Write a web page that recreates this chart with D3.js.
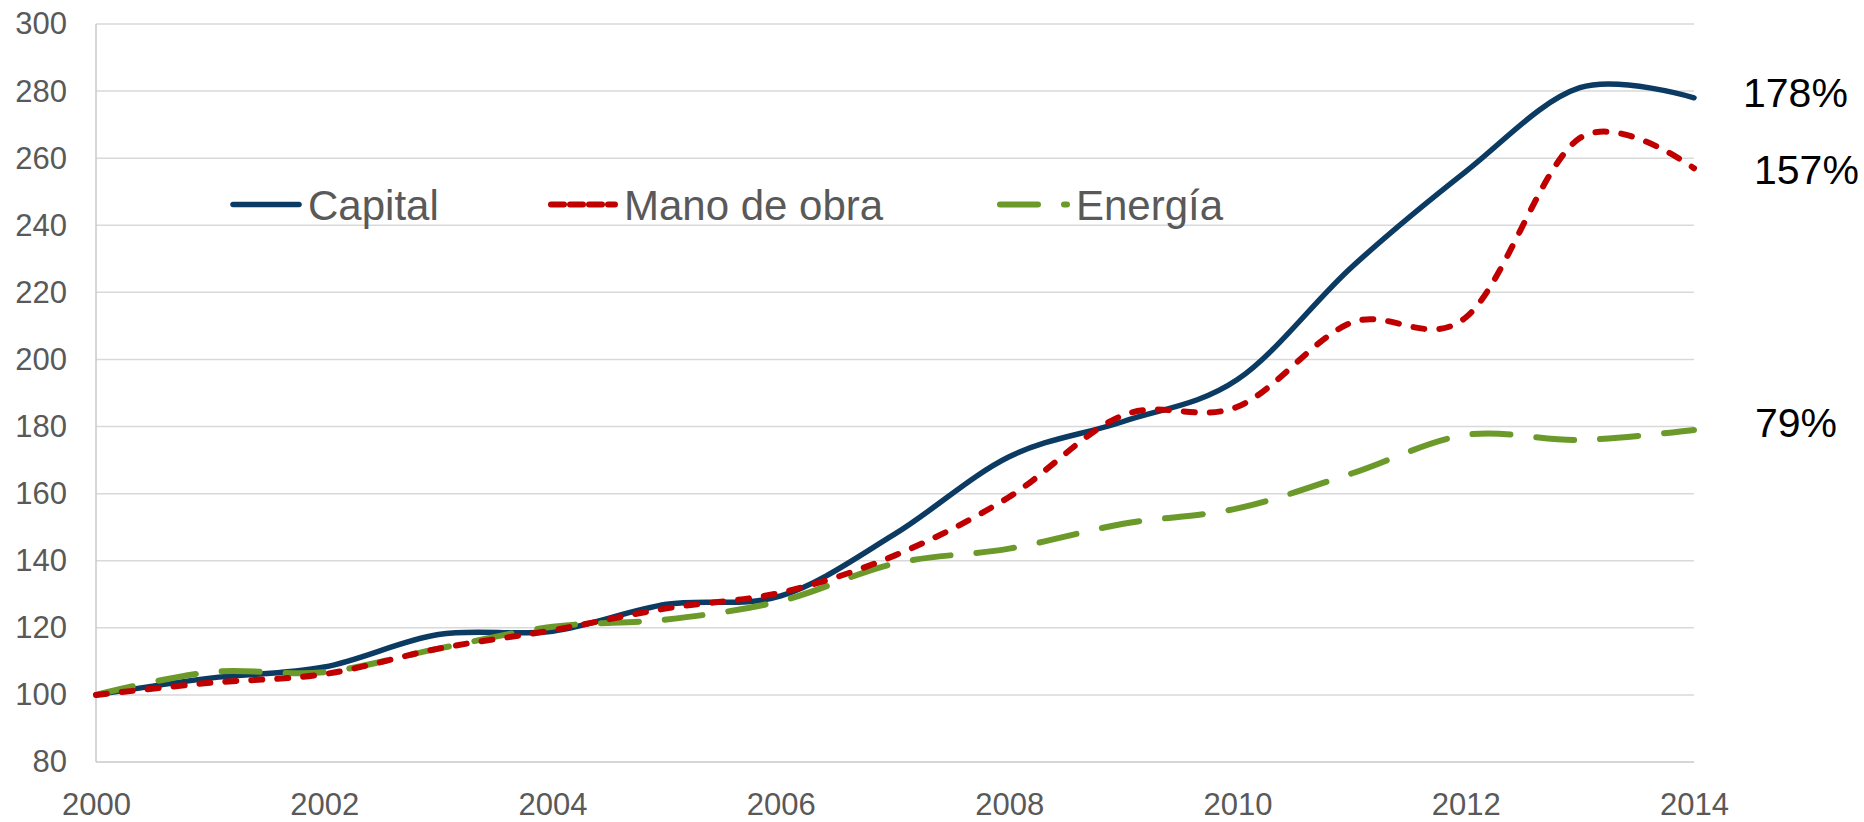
<!DOCTYPE html>
<html>
<head>
<meta charset="utf-8">
<script src="https://cdn.jsdelivr.net/npm/d3@7"></script>
<style>
  html, body { margin: 0; padding: 0; background: #fff; }
  svg { display: block; font-family: "Liberation Sans", Arial, sans-serif; }
</style>
</head>
<body>
<script>
// Índice 2000 = 100
const years = [2000, 2001, 2002, 2003, 2004, 2005, 2006, 2007, 2008, 2009, 2010, 2011, 2012, 2013, 2014];
const capital = [100, 105, 108.3, 118, 119, 127, 129.5, 148, 171, 181.5, 194, 227.5, 256, 281, 278];
const manoDeObra = [100, 103.6, 106.2, 113.8, 119.3, 125.8, 130.5, 141.6, 159, 183.4, 185.9, 211, 212.5, 266, 257];
const energia = [100, 106.8, 106.8, 113.8, 120.3, 122.5, 128, 139.2, 143.6, 151, 155.6, 166, 177.5, 176, 179];

const seriesNames = ['Capital', 'Mano de obra', 'Energía'];
const endLabels = ['178%', '157%', '79%'];
const yTicks = [80, 100, 120, 140, 160, 180, 200, 220, 240, 260, 280, 300];
const xTicks = [2000, 2002, 2004, 2006, 2008, 2010, 2012, 2014];

const width = 1864;
const height = 822;

const x = d3.scaleLinear().domain([2000, 2014]).range([96, 1694]);
const y = d3.scaleLinear().domain([80, 300]).range([762, 24]);

const svg = d3.select('body')
  .append('svg')
  .attr('width', width)
  .attr('height', height);

// Gridlines
svg.append('g')
  .attr('class', 'grid')
  .selectAll('line')
  .data(yTicks)
  .join('line')
  .attr('x1', x(2000))
  .attr('x2', x(2014))
  .attr('y1', (d) => y(d))
  .attr('y2', (d) => y(d))
  .attr('stroke', (d) => (d === 80 ? '#c8c8c8' : '#d9d9d9'))
  .attr('stroke-width', 1.5);

// Left axis line
svg.append('line')
  .attr('x1', x(2000))
  .attr('x2', x(2000))
  .attr('y1', y(300))
  .attr('y2', y(80))
  .attr('stroke', '#c8c8c8')
  .attr('stroke-width', 1.5);

// Y axis labels
const yAxis = svg.append('g')
  .attr('transform', `translate(${x(2000) - 29},0)`)
  .call(d3.axisLeft(y).tickValues(yTicks).tickSize(0).tickPadding(0));
yAxis.select('.domain').remove();
yAxis.selectAll('text')
  .attr('fill', '#595959')
  .attr('font-size', 31)
  .attr('font-family', '"Liberation Sans", Arial, sans-serif');

// X axis labels (sit right at the bottom edge, like the original)
const xAxis = svg.append('g')
  .attr('transform', `translate(0,${y(80) + 53})`)
  .call(d3.axisBottom(x).tickValues(xTicks).tickFormat(d3.format('d')).tickSize(0).tickPadding(0));
xAxis.select('.domain').remove();
xAxis.selectAll('text')
  .attr('fill', '#595959')
  .attr('font-size', 31)
  .attr('font-family', '"Liberation Sans", Arial, sans-serif')
  .attr('dy', 0);

const styles = [
  { color: '#0b3a62', width: 5.5, dash: null },
  { color: '#c00000', width: 6, dash: '11,15' },
  { color: '#6b9a2a', width: 6, dash: '38,26' },
];

const series = [capital, manoDeObra, energia];

const line = d3.line()
  .x((d, i) => x(years[i]))
  .y((d) => y(d))
  .curve(d3.curveCardinal.tension(0));

// Green first, then red, blue on top
const order = [0, 2, 1];
order.forEach((k) => {
  svg.append('path')
    .datum(series[k])
    .attr('d', line)
    .attr('fill', 'none')
    .attr('stroke', styles[k].color)
    .attr('stroke-width', styles[k].width)
    .attr('stroke-linecap', 'round')
    .attr('stroke-linejoin', 'round')
    .attr('stroke-dasharray', styles[k].dash);
});

// End-of-line labels
const labelDx = [49, 60, 61];
const labelDy = [-6, 1, -8];
endLabels.forEach((t, k) => {
  const last = series[k][series[k].length - 1];
  svg.append('text')
    .attr('x', x(2014) + labelDx[k])
    .attr('y', y(last) + labelDy[k])
    .attr('dy', '0.36em')
    .attr('font-size', 41)
    .attr('fill', '#000')
    .text(t);
});

// Legend
const legendX = [233, 551, 1000];
const legendLen = [66, 64, 67];
const legendY = 204.5;
const legend = svg.append('g').attr('class', 'legend');
seriesNames.forEach((name, k) => {
  legend.append('line')
    .attr('x1', legendX[k])
    .attr('x2', legendX[k] + legendLen[k])
    .attr('y1', legendY)
    .attr('y2', legendY)
    .attr('stroke', styles[k].color)
    .attr('stroke-width', styles[k].width)
    .attr('stroke-linecap', 'round')
    .attr('stroke-dasharray', k === 1 ? '13,6' : styles[k].dash);
  legend.append('text')
    .attr('x', legendX[k] + legendLen[k] + 9)
    .attr('y', legendY)
    .attr('dy', '0.36em')
    .attr('font-size', 42)
    .attr('fill', '#595959')
    .text(name);
});
</script>
</body>
</html>
